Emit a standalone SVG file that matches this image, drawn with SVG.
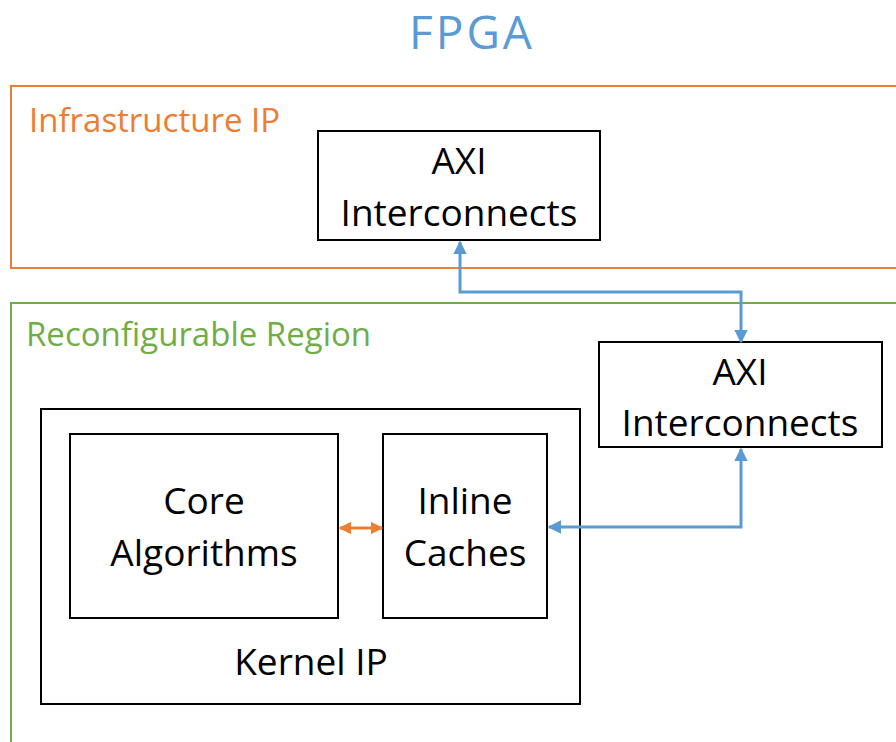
<svg xmlns="http://www.w3.org/2000/svg" width="896" height="742" viewBox="0 0 896 742">
  <defs>
    <style>
      .box { fill: #ffffff; stroke: #000000; stroke-width: 2; }
      .lbl { font-family: "Open Sans", "Noto Sans", sans-serif; font-size: 37px; fill: #000000; text-anchor: middle; }
      .region-title { font-family: "Open Sans", "Noto Sans", sans-serif; font-size: 33px; }
      .blue-link { fill: none; stroke: #5B9BD5; stroke-width: 3; }
      .orange-link { fill: none; stroke: #ED7D31; stroke-width: 3; }
    </style>
    <marker id="arrow-blue" viewBox="0 0 10 10" refX="9" refY="5" markerWidth="4.5" markerHeight="4.5" orient="auto-start-reverse">
      <path d="M0,0 L10,5 L0,10 z" fill="#5B9BD5"/>
    </marker>
    <marker id="arrow-orange" viewBox="0 0 10 10" refX="9" refY="5" markerWidth="4.2" markerHeight="4.2" orient="auto-start-reverse">
      <path d="M0,0 L10,5 L0,10 z" fill="#ED7D31"/>
    </marker>
  </defs>

  <rect width="896" height="742" fill="#ffffff"/>

  <!-- title -->
  <text x="472" y="49" font-family="'Open Sans', 'Noto Sans', sans-serif" font-size="46" letter-spacing="3" fill="#5B9BD5" text-anchor="middle">FPGA</text>

  <!-- infrastructure region -->
  <g id="infrastructure-ip">
    <rect x="11" y="86" width="900" height="182" fill="none" stroke="#ED7D31" stroke-width="2"/>
    <text class="region-title" x="29" y="132" fill="#ED7D31">Infrastructure IP</text>
  </g>

  <!-- reconfigurable region -->
  <g id="reconfigurable-region">
    <rect x="11" y="303" width="900" height="460" fill="none" stroke="#70AD47" stroke-width="2"/>
    <text class="region-title" x="26" y="346" fill="#70AD47">Reconfigurable Region</text>
  </g>

  <g id="axi-top">
    <rect class="box" x="318" y="131" width="282" height="109"/>
    <text class="lbl" x="459" y="174">AXI</text>
    <text class="lbl" x="459" y="226">Interconnects</text>
  </g>

  <g id="axi-right">
    <rect class="box" x="599" y="342" width="283" height="105"/>
    <text class="lbl" x="740" y="385">AXI</text>
    <text class="lbl" x="740" y="436">Interconnects</text>
  </g>

  <g id="kernel-ip">
    <rect class="box" x="41" y="409" width="539" height="295"/>
    <text class="lbl" x="311" y="675">Kernel IP</text>
  </g>

  <g id="core-algorithms">
    <rect class="box" x="70" y="434" width="268" height="184"/>
    <text class="lbl" x="204" y="514">Core</text>
    <text class="lbl" x="204" y="566">Algorithms</text>
  </g>

  <g id="inline-caches">
    <rect class="box" x="383" y="434" width="164" height="184"/>
    <text class="lbl" x="465" y="514">Inline</text>
    <text class="lbl" x="465" y="566">Caches</text>
  </g>

  <g id="connectors">
    <path class="blue-link" d="M460,242 V292 H741 V342" marker-start="url(#arrow-blue)" marker-end="url(#arrow-blue)"/>
    <path class="blue-link" d="M549,527 H741 V449" marker-start="url(#arrow-blue)" marker-end="url(#arrow-blue)"/>
    <path class="orange-link" d="M340,528 H382" marker-start="url(#arrow-orange)" marker-end="url(#arrow-orange)"/>
  </g>
</svg>
